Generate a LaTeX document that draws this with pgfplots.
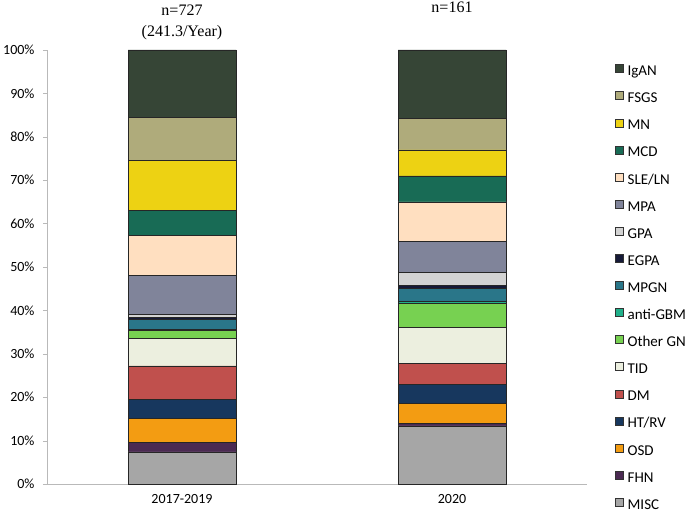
\documentclass[border=0pt]{standalone}
\usepackage{fontspec}
\setmainfont{Carlito}
\newfontfamily\seriffont{Liberation Serif}
\usepackage{pgfplots}
\pgfplotsset{compat=1.18}
\definecolor{cIgAN}{HTML}{364536}
\definecolor{cFSGS}{HTML}{AFAB7B}
\definecolor{cMN}{HTML}{EDD213}
\definecolor{cMCD}{HTML}{186B55}
\definecolor{cSLE}{HTML}{FFDFC0}
\definecolor{cMPA}{HTML}{80849A}
\definecolor{cGPA}{HTML}{D3D3D3}
\definecolor{cEGPA}{HTML}{161A38}
\definecolor{cMPGN}{HTML}{2A7689}
\definecolor{cGBM}{HTML}{20B08A}
\definecolor{cOGN}{HTML}{77D151}
\definecolor{cTID}{HTML}{ECEFDF}
\definecolor{cDM}{HTML}{C0504D}
\definecolor{cHT}{HTML}{17375E}
\definecolor{cOSD}{HTML}{F39C12}
\definecolor{cFHN}{HTML}{4B2A52}
\definecolor{cMISC}{HTML}{A6A6A6}
\begin{document}
\begin{tikzpicture}
\begin{axis}[
  at={(0,0)}, anchor=south west,
  scale only axis, width=540pt, height=434pt,
  xmin=-0.5, xmax=1.5, ymin=0, ymax=100,
  ybar stacked, bar width=108pt,
  xtick={0,1}, xticklabels={2017-2019,2020},
  ytick={0,10,...,100},
  yticklabel={\pgfmathprintnumber{\tick}\%},
  /pgf/number format/assume math mode=true,
  axis x line*=bottom, axis y line*=left,
  axis line style={draw=gray!55, -},
  tick align=outside, major tick length=4pt,
  ytick style={draw=gray!55},
  xtick style={draw=none},
  tick label style={font=\fontsize{14}{16}\selectfont},
  yticklabel style={xshift=-5pt},
  xticklabel style={yshift=-3pt},
  every axis plot/.append style={draw=black!85, line width=0.6pt},
  clip=false,
  reverse legend,
  legend cell align=left,
  legend style={at={(1.046,0.972)}, anchor=north west, draw=none, fill=none,
    font=\fontsize{15}{17}\selectfont,
    nodes={inner sep=0pt, text height=10pt, text depth=3pt},
    row sep=12.8pt, column sep=4pt},
  legend image code/.code={\draw[#1,draw=black!80,line width=0.6pt] (0pt,-0.5pt) rectangle (8pt,7.5pt);},
]
\addplot[fill=cMISC] coordinates {(0,7.4) (1,13.4)};
\addplot[fill=cFHN] coordinates {(0,2.1) (1,0.6)};
\addplot[fill=cOSD] coordinates {(0,5.6) (1,4.6)};
\addplot[fill=cHT] coordinates {(0,4.4) (1,4.4)};
\addplot[fill=cDM] coordinates {(0,7.7) (1,4.7)};
\addplot[fill=cTID] coordinates {(0,6.3) (1,8.4)};
\addplot[fill=cOGN] coordinates {(0,1.8) (1,5.5)};
\addplot[fill=cGBM] coordinates {(0,0.4) (1,0.4)};
\addplot[fill=cMPGN] coordinates {(0,2.2) (1,3.0)};
\addplot[fill=cEGPA] coordinates {(0,0.4) (1,0.8)};
\addplot[fill=cGPA] coordinates {(0,0.8) (1,2.9)};
\addplot[fill=cMPA] coordinates {(0,8.9) (1,7.2)};
\addplot[fill=cSLE] coordinates {(0,9.3) (1,9.1)};
\addplot[fill=cMCD] coordinates {(0,5.8) (1,6.0)};
\addplot[fill=cMN] coordinates {(0,11.4) (1,6.0)};
\addplot[fill=cFSGS] coordinates {(0,10.0) (1,7.2)};
\addplot[fill=cIgAN] coordinates {(0,15.5) (1,15.8)};
\legend{MISC,FHN,OSD,HT/RV,DM,TID,Other GN,anti-GBM,MPGN,EGPA,GPA,MPA,SLE/LN,MCD,MN,FSGS,IgAN}
\node[font=\seriffont\fontsize{16}{20}\selectfont, anchor=base] at (axis cs:0,100) [yshift=34pt] {n=727};
\node[font=\seriffont\fontsize{16}{20}\selectfont, anchor=base] at (axis cs:0,100) [yshift=13pt] {(241.3/Year)};
\node[font=\seriffont\fontsize{16}{20}\selectfont, anchor=base] at (axis cs:1,100) [yshift=37pt] {n=161};
\end{axis}
\pgfresetboundingbox
\path[use as bounding box] (-47pt,-30pt) rectangle (638pt,484pt);
\end{tikzpicture}
\end{document}
